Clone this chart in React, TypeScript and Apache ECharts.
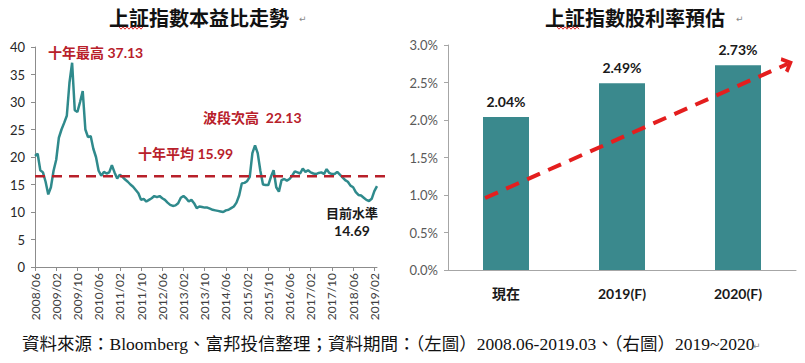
import React, { useEffect, useRef } from "react";
import * as echarts from "echarts";

// ---------- texts ----------
const peTitle = "上証指數本益比走勢";
const yieldTitle = "上証指數股利率預估";
const footnote =
  "資料來源：Bloomberg、富邦投信整理；資料期間：（左圖）2008.06-2019.03、（右圖）2019~2020";

// ---------- left chart data (monthly P/E, 2008/06 - 2019/03) ----------
const peStartYear = 2008;
const peStartMonth = 6;
const peValues = [
  20.2, 20.6, 17.6, 17.2, 15.5, 13.2, 14.5, 17.5, 19.5, 23.5,
  25.0, 26.2, 27.5, 33.5, 37.13, 28.5, 28.2, 30.0, 32.0, 25.0,
  23.6, 23.8, 21.5, 20.0, 17.5, 16.6, 17.3, 17.0, 17.2, 18.5,
  17.2, 16.1, 16.8, 16.4, 15.9, 15.5, 15.0, 14.6, 14.0, 13.4,
  12.2, 12.4, 11.9, 12.2, 12.5, 12.9, 12.7, 12.9, 12.5, 12.2,
  11.7, 11.3, 11.1, 11.2, 11.6, 12.6, 12.9, 12.5, 11.9, 12.2,
  11.6, 10.7, 11.0, 10.9, 10.8, 10.8, 10.6, 10.4, 10.3, 10.2,
  10.1, 10.0, 10.3, 10.4, 10.7, 11.0, 11.7, 13.0, 15.2, 15.3,
  15.6, 16.4, 20.7, 22.13, 20.7, 17.5, 15.0, 14.9, 14.9, 16.4,
  17.6, 14.5, 13.7, 15.8, 16.0, 15.7, 16.0, 16.6, 17.4, 17.2,
  17.0, 17.9, 17.3, 17.6, 17.2, 17.0, 16.9, 17.1, 17.2, 16.9,
  17.8, 17.1, 16.9, 16.9, 17.3, 16.8, 16.3, 15.8, 15.5, 14.8,
  14.5, 13.6, 13.1, 13.0, 12.6, 12.2, 12.0, 12.4, 13.8, 14.69,
];
const peMonths: string[] = peValues.map((_, i) => {
  const m0 = peStartMonth - 1 + i;
  const y = peStartYear + Math.floor(m0 / 12);
  const m = (m0 % 12) + 1;
  return `${y}/${m < 10 ? "0" + m : m}`;
});
const peYTicks = { min: 0, max: 40, interval: 5 };
const peMaxValue = 37.13;
const peSecondHigh = 22.13;
const peAverage = 15.99;
const peAverageLineLevel = 16.5; // where the dashed line is drawn in the picture
const peCurrent = 14.69;

// ---------- right chart data ----------
const yieldCategories = ["現在", "2019(F)", "2020(F)"];
const yieldValues = [2.04, 2.49, 2.73];
const yieldYTicks = { min: 0, max: 3, interval: 0.5 };
// trend arrow in (category position, percent) units
const trendStart = [0.32, 0.96];
const trendEnd = [2.93, 2.75];

// ---------- styles ----------
const SANS = "Lato, 'Noto Sans CJK TC', sans-serif";
const CJK = "'Noto Sans CJK TC', sans-serif";
const SERIF = "'Liberation Serif', 'Noto Sans CJK TC', serif";
const TEAL_LINE = "#2F8A8C";
const TEAL_BAR = "#3A898D";
const DARK_RED = "#B8202A";
const ARROW_RED = "#E41E1E";
const AXIS_GRAY = "#8C8C8C";

function zigzag(x0: number, x1: number, y: number) {
  const pts: number[][] = [];
  let up = true;
  for (let x = x0; x <= x1; x += 2) {
    pts.push([x, up ? y - 1.2 : y + 1.2]);
    up = !up;
  }
  return pts;
}

export default function App() {
  const ref = useRef<HTMLDivElement>(null);
  useEffect(() => {
    if (!ref.current) return;
    const chart = echarts.init(ref.current, undefined, { renderer: "svg" });

    const annot = (id: string, text: string, x: number, y: number, fill: string, size: number, align = "left") => ({
      id,
      type: "text",
      x,
      y,
      style: {
        text,
        fill,
        fontFamily: SANS,
        fontWeight: "bold",
        fontSize: size,
        align,
        verticalAlign: "middle",
      },
    });

    const baseGraphic: any[] = [
      {
        id: "t1",
        type: "text",
        x: 199,
        y: 17,
        style: {
          text: peTitle,
          fill: "#111",
          fontFamily: CJK,
          fontWeight: "bold",
          fontSize: 20,
          align: "center",
          verticalAlign: "middle",
        },
      },
      {
        id: "t1r",
        type: "text",
        x: 299,
        y: 19,
        style: { text: "↵", fill: "#888", fontSize: 9, fontFamily: "DejaVu Sans", verticalAlign: "middle" },
      },
      {
        id: "t1w",
        type: "polyline",
        shape: { points: zigzag(119, 143, 28) },
        style: { stroke: "#E03030", lineWidth: 1, fill: "none" },
      },
      {
        id: "t2",
        type: "text",
        x: 635,
        y: 17,
        style: {
          text: yieldTitle,
          fill: "#111",
          fontFamily: CJK,
          fontWeight: "bold",
          fontSize: 20,
          align: "center",
          verticalAlign: "middle",
        },
      },
      {
        id: "t2r",
        type: "text",
        x: 736,
        y: 19,
        style: { text: "↵", fill: "#888", fontSize: 9, fontFamily: "DejaVu Sans", verticalAlign: "middle" },
      },
      {
        id: "t2w",
        type: "polyline",
        shape: { points: zigzag(557, 580, 28) },
        style: { stroke: "#E03030", lineWidth: 1, fill: "none" },
      },
      annot("a1", `十年最高 ${peMaxValue.toFixed(2)}`, 48, 52, DARK_RED, 14),
      annot("a2", `波段次高  ${peSecondHigh.toFixed(2)}`, 203, 117, DARK_RED, 14),
      annot("a3", `十年平均 ${peAverage.toFixed(2)}`, 138, 153, DARK_RED, 14),
      annot("a4", "目前水準", 352, 213, "#1a1a1a", 13, "center"),
      annot("a5", peCurrent.toFixed(2), 352, 230, "#1a1a1a", 14, "center"),
      {
        id: "foot",
        type: "text",
        x: 22,
        y: 344,
        style: {
          text: footnote,
          fill: "#111",
          fontFamily: SERIF,
          fontSize: 17.5,
          verticalAlign: "middle",
        },
      },
      {
        id: "footr",
        type: "text",
        x: 753,
        y: 346,
        style: { text: "↵", fill: "#888", fontSize: 9, fontFamily: "DejaVu Sans", verticalAlign: "middle" },
      },
    ];

    const option: any = {
      animation: false,
      backgroundColor: "#fff",
      grid: [
        { left: 35, top: 47, width: 342, height: 220, containLabel: false },
        { left: 448, top: 45, width: 348, height: 225, containLabel: false },
      ],
      xAxis: [
        {
          type: "category",
          gridIndex: 0,
          data: peMonths,
          boundaryGap: false,
          axisLine: { lineStyle: { color: AXIS_GRAY, width: 1 } },
          axisTick: { interval: 7, length: 4, lineStyle: { color: AXIS_GRAY } },
          axisLabel: {
            interval: 7,
            rotate: 90,
            margin: 6,
            fontSize: 12,
            color: "#404040",
            fontFamily: SANS,
          },
          splitLine: { show: false },
        },
        {
          type: "category",
          gridIndex: 1,
          data: yieldCategories,
          axisLine: { lineStyle: { color: "#A6A6A6", width: 1 } },
          axisTick: { length: 5, lineStyle: { color: "#A6A6A6" } },
          axisLabel: {
            margin: 16,
            fontSize: 14,
            fontWeight: "bold",
            color: "#1a1a1a",
            fontFamily: SANS,
          },
        },
        {
          type: "value",
          gridIndex: 1,
          min: 0,
          max: 3,
          show: false,
        },
      ],
      yAxis: [
        {
          type: "value",
          gridIndex: 0,
          min: peYTicks.min,
          max: peYTicks.max,
          interval: peYTicks.interval,
          axisLine: { show: true, lineStyle: { color: AXIS_GRAY } },
          axisTick: { show: true, length: 4, lineStyle: { color: AXIS_GRAY } },
          axisLabel: { margin: 10, fontSize: 13, color: "#262626", fontFamily: SANS },
          splitLine: { show: false },
        },
        {
          type: "value",
          gridIndex: 1,
          min: yieldYTicks.min,
          max: yieldYTicks.max,
          interval: yieldYTicks.interval,
          axisLine: { show: true, lineStyle: { color: "#A6A6A6" } },
          axisTick: { show: true, length: 4, lineStyle: { color: "#A6A6A6" } },
          axisLabel: {
            margin: 10,
            fontSize: 13,
            color: "#595959",
            fontFamily: SANS,
            formatter: (v: number) => v.toFixed(1) + "%",
          },
          splitLine: { show: false },
        },
      ],
      series: [
        {
          type: "line",
          xAxisIndex: 0,
          yAxisIndex: 0,
          data: peValues,
          symbol: "none",
          lineStyle: { color: TEAL_LINE, width: 2.5 },
          silent: true,
          z: 3,
        },
        {
          type: "bar",
          xAxisIndex: 1,
          yAxisIndex: 1,
          data: yieldValues,
          barWidth: 46,
          itemStyle: { color: TEAL_BAR },
          label: {
            show: true,
            position: "top",
            distance: 9,
            fontSize: 14,
            fontWeight: "bold",
            color: "#1a1a1a",
            fontFamily: SANS,
            formatter: (p: any) => Number(p.value).toFixed(2) + "%",
          },
          silent: true,
        },
        {
          type: "line",
          xAxisIndex: 2,
          yAxisIndex: 1,
          data: [],
          silent: true,
          markLine: {
            silent: true,
            animation: false,
            symbol: ["none", "path://M0,8 L8,0 L16,8 L13,10 L8,5 L3,10 Z"],
            symbolSize: [17, 11],
            label: { show: false },
            lineStyle: { color: ARROW_RED, width: 4, type: [14, 9], opacity: 1 },
            emphasis: { disabled: true },
            data: [[{ coord: trendStart }, { coord: trendEnd }]],
            z: 5,
          },
        },
      ],
      graphic: baseGraphic,
    };

    chart.setOption(option);

    // average dashed line, positioned through the left chart's y scale
    const yAvg = chart.convertToPixel({ gridIndex: 0 }, [0, peAverageLineLevel])[1];
    const xLeft = chart.convertToPixel({ gridIndex: 0 }, [0, 0])[0];
    chart.setOption({
      graphic: [
        ...baseGraphic,
        {
          id: "avgline",
          type: "line",
          z: 10,
          shape: { x1: xLeft, y1: yAvg, x2: 392, y2: yAvg },
          style: { stroke: DARK_RED, lineWidth: 2.5, lineDash: [10, 7] },
        },
      ],
    });

    return () => chart.dispose();
  }, []);

  return (
    <div
      ref={ref}
      style={{ position: "fixed", left: 0, top: 0, width: 805, height: 363, background: "#fff" }}
    />
  );
}
